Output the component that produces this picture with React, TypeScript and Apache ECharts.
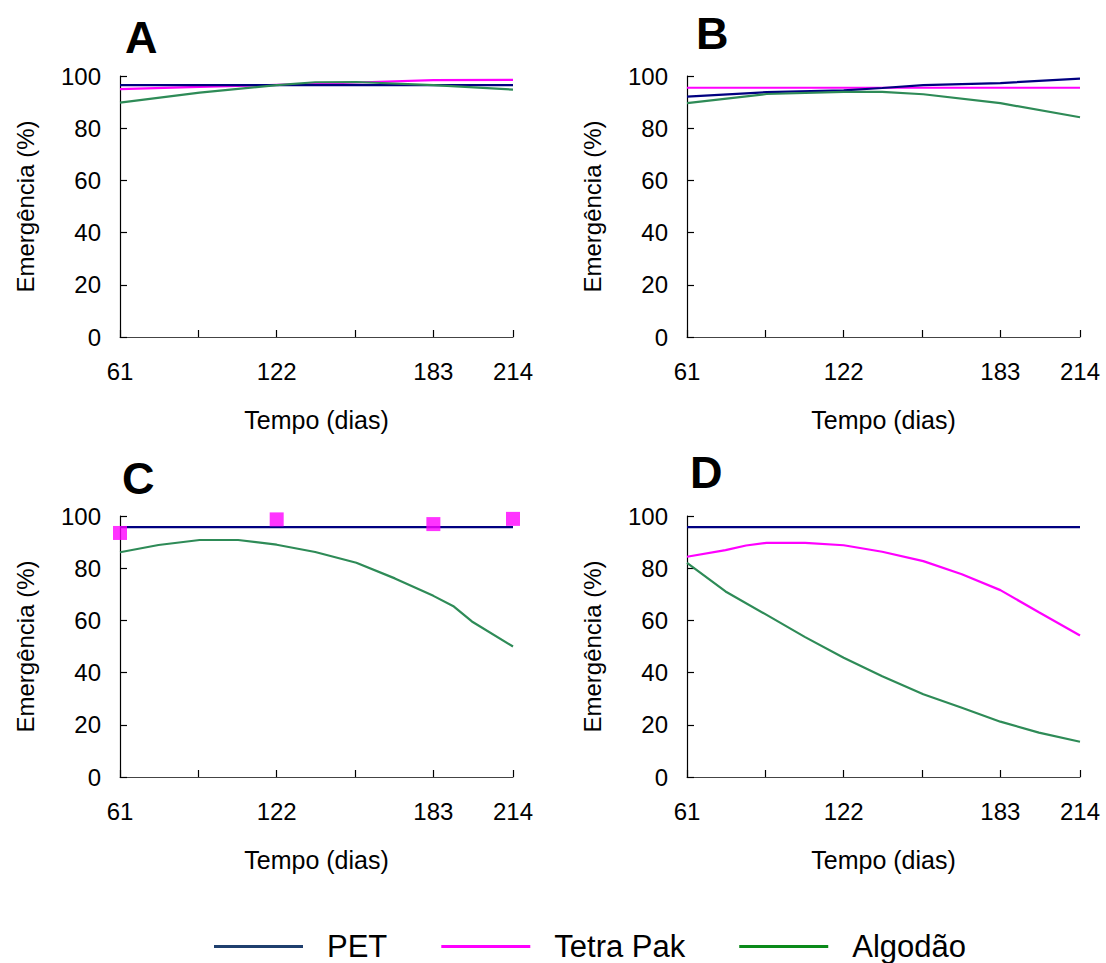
import React, { useEffect, useRef } from "react";
import * as echarts from "echarts";

// ---- data (x in days, y in % emergence) ----
const xTickDays = [61, 91.5, 122, 152.5, 183, 214];
const xLabelDays = [61, 122, 183, 214];
const yTicks = [0, 20, 40, 60, 80, 100];

const seriesNames = ["PET", "Tetra Pak", "Algodão"];
const panelLetters = ["A", "B", "C", "D"];

// Panel A
const aDays = [61, 92, 122, 137, 153, 183, 214];
const aPET = [96.5, 96.5, 96.5, 96.5, 96.5, 96.5, 96.5];
const aTetra = [95.0, 95.8, 96.6, 97.0, 97.5, 98.4, 98.5];
const aAlg = [89.8, 93.6, 96.5, 97.6, 97.7, 96.5, 94.8];

// Panel B
const bDays = [61, 92, 122, 137, 153, 183, 214];
const bPET = [92.1, 93.8, 94.5, 95.4, 96.5, 97.3, 99.0];
const bTetra = [95.5, 95.5, 95.5, 95.5, 95.5, 95.5, 95.5];
const bAlg = [89.6, 93.1, 93.9, 93.9, 93.0, 89.6, 84.2];

// Panel C
const cLineDays = [61, 214];
const cPET = [95.7, 95.7];
const cTetraDays = [61, 122, 183, 214];
const cTetra = [93.5, 98.7, 96.9, 98.9];
const cAlgDays = [61, 76, 92, 107, 122, 137, 153, 168, 183, 191, 198, 214];
const cAlg = [86.1, 88.9, 90.8, 90.8, 89.0, 86.2, 82.1, 76.1, 69.4, 65.3, 59.6, 50.0];

// Panel D
const dLineDays = [61, 214];
const dPET = [95.7, 95.7];
const dTetraDays = [61, 76, 84, 92, 107, 122, 137, 153, 168, 183, 198, 214];
const dTetra = [84.4, 86.9, 88.7, 89.7, 89.7, 88.8, 86.3, 82.7, 77.7, 71.6, 63.1, 54.2];
const dAlgDays = [61, 76, 92, 107, 122, 137, 153, 168, 183, 198, 214];
const dAlg = [82.0, 71.1, 62.1, 53.6, 45.7, 38.6, 31.7, 26.5, 21.2, 17.0, 13.5];

// ---- styles ----
const FONT = "'Liberation Sans', Arial, Helvetica, sans-serif";
const C_PET = "#000080";
const C_TETRA = "#ff00ff";
const C_ALG = "#2e8b57";
const L_PET = "#1f3f6e";
const L_TETRA = "#ff00ff";
const L_ALG = "#0a8a1a";

const zip = (xs: number[], ys: number[]) => xs.map((x, i) => [x, ys[i]]);

const grids = [
  { left: 120, top: 76, width: 393, height: 261 },
  { left: 687, top: 76, width: 393, height: 261 },
  { left: 120, top: 516, width: 393, height: 261 },
  { left: 687, top: 516, width: 393, height: 261 },
];
const letterPos = [
  [125, 39],
  [696, 35],
  [122, 480],
  [690, 474],
];

function lineSeries(name: string, color: string, g: number, data: number[][], z = 2) {
  return {
    type: "line",
    name,
    xAxisIndex: g,
    yAxisIndex: g,
    data,
    showSymbol: false,
    symbol: "none",
    lineStyle: { color, width: 2.2 },
    itemStyle: { color },
    z,
  };
}

export default function App() {
  const ref = useRef<HTMLDivElement>(null);
  useEffect(() => {
    if (!ref.current) return;
    const chart = echarts.init(ref.current, undefined, { renderer: "svg" });

    const xAxes = grids.map((_, i) => ({
      type: "value",
      gridIndex: i,
      min: 61,
      max: 214,
      name: "Tempo (dias)",
      nameLocation: "middle",
      nameGap: 70,
      nameTextStyle: { fontFamily: FONT, fontSize: 25, color: "#000" },
      axisLine: { show: true, lineStyle: { color: "#444", width: 1.2 } },
      axisTick: {
        show: true,
        inside: true,
        length: 7,
        customValues: xTickDays,
        lineStyle: { color: "#000", width: 1.2 },
      },
      axisLabel: {
        show: true,
        customValues: xLabelDays,
        margin: 22,
        fontFamily: FONT,
        fontSize: 24,
        color: "#000",
        formatter: (v: number) => String(v),
      },
      splitLine: { show: false },
    }));

    const yAxes = grids.map((_, i) => ({
      type: "value",
      gridIndex: i,
      min: 0,
      max: 100,
      interval: 20,
      name: "Emergência (%)",
      nameLocation: "middle",
      nameGap: 83,
      nameTextStyle: { fontFamily: FONT, fontSize: 24, color: "#000" },
      axisLine: { show: true, lineStyle: { color: "#000", width: 1.2 } },
      axisTick: { show: true, inside: true, length: 7, lineStyle: { color: "#000", width: 1.2 } },
      axisLabel: {
        margin: 19,
        fontFamily: FONT,
        fontSize: 24,
        color: "#000",
        customValues: yTicks,
      },
      splitLine: { show: false },
    }));

    const series: any[] = [
      // A
      lineSeries(seriesNames[0], C_PET, 0, zip(aDays, aPET), 3),
      lineSeries(seriesNames[1], C_TETRA, 0, zip(aDays, aTetra), 2),
      lineSeries(seriesNames[2], C_ALG, 0, zip(aDays, aAlg), 4),
      // B
      lineSeries(seriesNames[0], C_PET, 1, zip(bDays, bPET), 3),
      lineSeries(seriesNames[1], C_TETRA, 1, zip(bDays, bTetra), 2),
      lineSeries(seriesNames[2], C_ALG, 1, zip(bDays, bAlg), 4),
      // C
      lineSeries(seriesNames[0], C_PET, 2, zip(cLineDays, cPET), 3),
      {
        type: "scatter",
        name: seriesNames[1],
        xAxisIndex: 2,
        yAxisIndex: 2,
        data: zip(cTetraDays, cTetra),
        symbol: "rect",
        symbolSize: 14,
        itemStyle: { color: C_TETRA },
        z: 5,
      },
      lineSeries(seriesNames[2], C_ALG, 2, zip(cAlgDays, cAlg), 4),
      // D
      lineSeries(seriesNames[0], C_PET, 3, zip(dLineDays, dPET), 3),
      lineSeries(seriesNames[1], C_TETRA, 3, zip(dTetraDays, dTetra), 2),
      lineSeries(seriesNames[2], C_ALG, 3, zip(dAlgDays, dAlg), 4),
    ];

    const legendColors = [L_PET, L_TETRA, L_ALG];

    chart.setOption({
      animation: false,
      backgroundColor: "#fff",
      textStyle: { fontFamily: FONT },
      grid: grids.map((g) => ({ ...g, containLabel: false })),
      xAxis: xAxes,
      yAxis: yAxes,
      series,
      legend: {
        left: 209,
        top: 926,
        icon: "rect",
        itemWidth: 89,
        itemHeight: 3,
        itemGap: 54,
        selectedMode: false,
        textStyle: {
          fontFamily: FONT,
          fontSize: 31,
          color: "#000",
          padding: [0, 0, 0, 19],
        },
        data: seriesNames.map((n, i) => ({
          name: n,
          icon: "rect",
          itemStyle: { color: legendColors[i], borderWidth: 0 },
        })),
      },
      graphic: panelLetters.map((t, i) => ({
        type: "text",
        left: letterPos[i][0],
        top: letterPos[i][1] - 24,
        style: {
          text: t,
          fontFamily: FONT,
          fontWeight: "bold",
          fontSize: 45,
          fill: "#000",
        },
      })),
    });
    return () => chart.dispose();
  }, []);

  return (
    <div
      ref={ref}
      style={{ position: "fixed", left: 0, top: 0, width: 1106, height: 963, background: "#fff" }}
    />
  );
}
